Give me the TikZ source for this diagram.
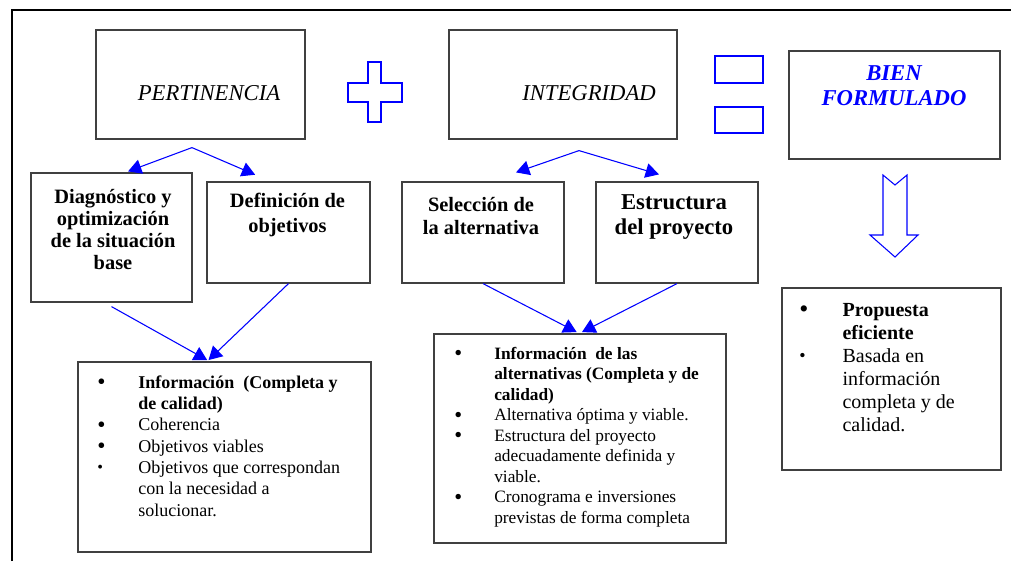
\documentclass[tikz,border=0pt]{standalone}
\usepackage{fontspec}
\setmainfont{Liberation Serif}
\usepackage{xcolor}
\usepackage{tikz}
\usetikzlibrary{arrows.meta}

% Bullets of the lists
\newcommand{\punto}{\raisebox{-1.2pt}[0pt][0pt]{\scalebox{1.3}{\textbullet}}}
\newcommand{\puntito}{\raisebox{0.3pt}[0pt][0pt]{\scalebox{0.9}{\textbullet}}}

\begin{document}
\begin{tikzpicture}[x=0.75pt,y=-0.75pt,
  panel/.style={draw=black!75,line width=0.9pt,inner sep=0pt},
  flecha/.style={blue,line width=0.8pt,-{Triangle[length=10pt,width=11pt]}},
  signo/.style={draw=blue,line width=0.8pt},
  titulo/.style={font=\fontsize{17}{20}\selectfont\itshape},
  etapa/.style={align=center,font=\fontsize{15.3}{17.5}\selectfont\bfseries},
  lista/.style={anchor=base west,inner sep=0pt}]

\useasboundingbox (0,0) rectangle (1011,561);

% Frame
\draw[line width=1.2pt] (12,561) -- (12,10) -- (1011,10);

% Top row
\node[panel,minimum width=156.75pt,minimum height=81.75pt] (pert) at (200.5,84.5) {};
\node[titulo] (pert-txt) at (209,93) {PERTINENCIA};

\node[panel,minimum width=171pt,minimum height=81.75pt] (integ) at (563,84.5) {};
\node[titulo] (integ-txt) at (589,93) {INTEGRIDAD};

\node[panel,minimum width=158.25pt,minimum height=81pt] (bien) at (894.5,105) {};
\node[align=center,text=blue,font=\fontsize{17}{19}\selectfont\bfseries\itshape]
  (bien-txt) at (894,86) {BIEN\\FORMULADO};

% Plus sign
\draw[signo] (368,62) -- (381,62) -- (381,83) -- (402,83) -- (402,102) -- (381,102)
  -- (381,122) -- (368,122) -- (368,102) -- (348,102) -- (348,83) -- (368,83) -- cycle;

% Equals sign
\draw[signo] (715,56) rectangle (763,83);
\draw[signo] (715,107) rectangle (763,133);

% Hollow arrow down
\draw[signo] (883,175) -- (895,185) -- (907,175) -- (907,235) -- (918,235)
  -- (895,257) -- (870,235) -- (883,235) -- cycle;

% Second row
\node[panel,minimum width=120.75pt,minimum height=96.75pt] (diag) at (111.5,237.5) {};
\node[etapa,font=\fontsize{15.3}{16.5}\selectfont\bfseries] (diag-txt) at (113,230)
  {Diagnóstico y\\optimización\\de la situación\\base};

\node[panel,minimum width=122.25pt,minimum height=75.75pt] (defi) at (288.5,232.5) {};
\node[etapa,font=\fontsize{15.3}{18.5}\selectfont\bfseries] (defi-txt) at (287.5,215)
  {Definición de\\objetivos};

\node[panel,minimum width=121.5pt,minimum height=75.75pt] (selec) at (483,232.5) {};
\node[etapa,font=\fontsize{15.3}{17}\selectfont\bfseries] (selec-txt) at (481,216)
  {Selección de\\la alternativa};

\node[panel,minimum width=121.5pt,minimum height=75.75pt] (estru) at (677,232.5) {};
\node[etapa,font=\fontsize{17}{19}\selectfont\bfseries] (estru-txt) at (674,217)
  {Estructura\\del proyecto};

% Forks under the titles
\coordinate (pert-fork) at ([xshift=-6.4pt,yshift=-6pt]pert.south);
\draw[flecha] (pert-fork) -- ([xshift=12.4pt,yshift=0.75pt]diag.north);
\draw[flecha] (pert-fork) -- ([xshift=-25pt,yshift=5pt]defi.north);

\coordinate (integ-fork) at ([xshift=12pt,yshift=-8.25pt]integ.south);
\draw[flecha] (integ-fork) -- ([xshift=24.75pt,yshift=6.75pt]selec.north);
\draw[flecha] (integ-fork) -- ([xshift=-13.5pt,yshift=5.25pt]estru.north);

% Bottom boxes
\node[panel,minimum width=219.75pt,minimum height=142.5pt] (info1) at (224.5,457) {};
\node[lista,font=\fontsize{13.5}{16}\selectfont] (info1-txt) at (97,388) {%
\begin{tabular}[t]{@{}p{30.75pt}@{}l@{}}
\punto & \textbf{Información~ (Completa y}\\
       & \textbf{de calidad)}\\
\punto & Coherencia\\
\punto & Objetivos viables\\
\puntito & Objetivos que correspondan\\
       & con la necesidad a\\
       & solucionar.
\end{tabular}};

\node[panel,minimum width=219pt,minimum height=156.75pt] (info2) at (580,438.5) {};
\node[lista,font=\fontsize{13}{15.4}\selectfont] (info2-txt) at (454,359) {%
\begin{tabular}[t]{@{}p{30pt}@{}l@{}}
\punto & \textbf{Información~ de las}\\
       & \textbf{alternativas (Completa y de}\\
       & \textbf{calidad)}\\
\punto & Alternativa óptima y viable.\\
\punto & Estructura del proyecto\\
       & adecuadamente definida y\\
       & viable.\\
\punto & Cronograma e inversiones\\
       & previstas de forma completa
\end{tabular}};

\node[panel,minimum width=164.25pt,minimum height=136.5pt] (prop) at (891.5,379) {};
\node[lista,font=\fontsize{15}{17.25}\selectfont] (prop-txt) at (799,316) {%
\begin{tabular}[t]{@{}p{32.5pt}@{}l@{}}
\punto & \textbf{Propuesta}\\
       & \textbf{eficiente}\\
\puntito & Basada en\\
       & información\\
       & completa y de\\
       & calidad.
\end{tabular}};

% Arrows into the bottom boxes
\draw[flecha] ([yshift=-3pt]diag.south) -- ([xshift=-13pt,yshift=1pt]info1.north);
\draw[flecha] (defi.south) -- ([xshift=-12pt,yshift=1pt]info1.north);
\draw[flecha] (selec.south) -- ([xshift=-2.5pt,yshift=1pt]info2.north);
\draw[flecha] (estru.south) -- ([xshift=1.5pt,yshift=1pt]info2.north);

\end{tikzpicture}
\end{document}
